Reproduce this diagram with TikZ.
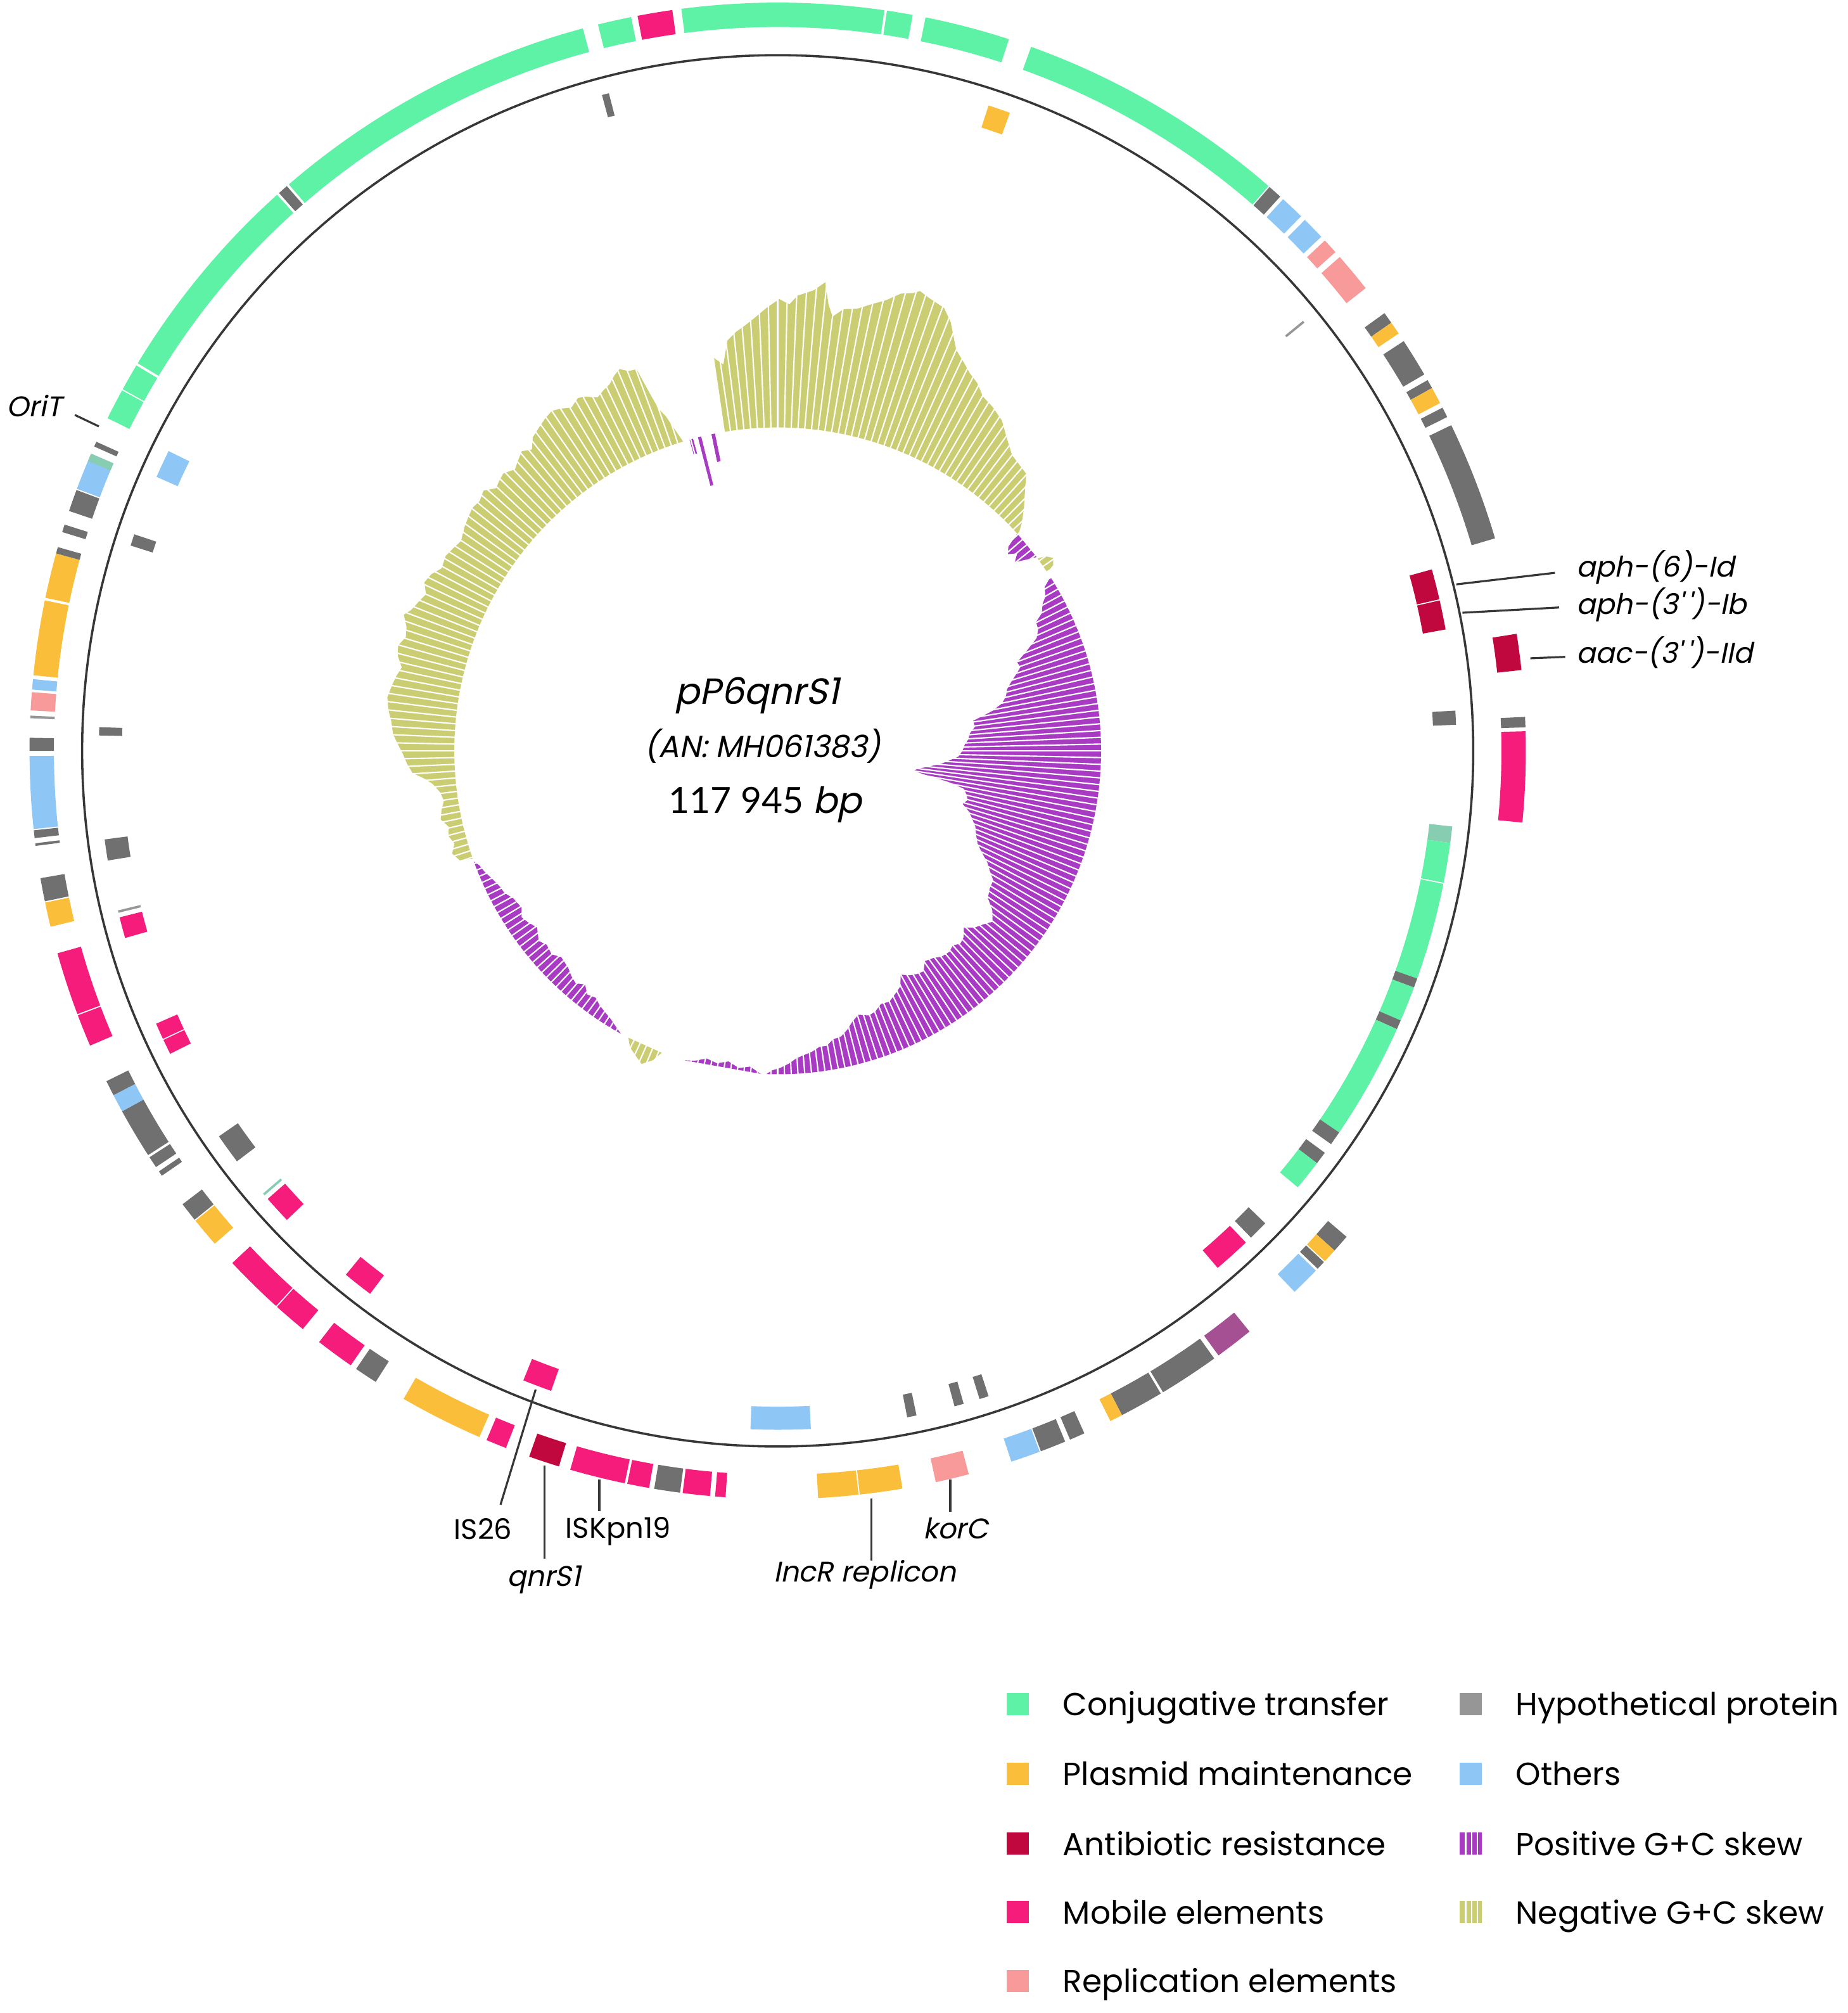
\documentclass[tikz,border=0pt]{standalone}
\usepackage{fontspec}
\setmainfont{Poppins}
\newfontfamily\gifont{Poppins}[FakeSlant=0.2]
\newfontfamily\numfont{Lato}
\definecolor{cconj}{RGB}{94,242,166}
\definecolor{cmaint}{RGB}{250,190,58}
\definecolor{cabr}{RGB}{192,8,62}
\definecolor{cmob}{RGB}{245,28,124}
\definecolor{crep}{RGB}{249,154,154}
\definecolor{chyp}{RGB}{112,112,112}
\definecolor{chypl}{RGB}{150,150,150}
\definecolor{coth}{RGB}{142,198,245}
\definecolor{cposskew}{RGB}{168,58,196}
\definecolor{cnegskew}{RGB}{203,205,115}
\definecolor{ctealx}{RGB}{135,205,178}
\definecolor{cmauve}{RGB}{166,80,148}
\definecolor{clinec}{RGB}{55,55,55}
\newcommand\featband[5]{\fill[#5] ({90-(#1)}:#3) -- ({90-(#1)}:#4) arc[start angle={90-(#1)}, end angle={90-(#2)}, radius=#4] -- ({90-(#2)}:#3) arc[start angle={90-(#2)}, end angle={90-(#1)}, radius=#3] -- cycle;}
\newcommand\ringO[3]{\featband{#1}{#2}{564}{583}{#3}}
\newcommand\ringI[3]{\featband{#1}{#2}{511}{529}{#3}}
\tikzset{
  lbl/.style={inner sep=0pt, font=\fontsize{6.3}{7}\selectfont},
  lbli/.style={inner sep=0pt, font=\gifont\fontsize{6.3}{7}\selectfont},
  lead/.style={draw=clinec, line width=0.45pt},
  lsq/.style={minimum size=1.73mm, inner sep=0pt},
  legtxt/.style={inner sep=0pt, anchor=base west, font=\fontsize{7.05}{9}\selectfont},
  stripe/.style={white, line width=0.3pt},
}
\begin{document}
\begin{tikzpicture}[x=0.1mm, y=0.1mm]
\path[use as bounding box] (0,0) rectangle (1440,-1568.4);
\begin{scope}[shift={(606,-585)}]
% ---- GC skew ----
\fill[cnegskew] ({90-350.6}:252) \foreach \p/\r in {350.8/310, 352/304, 353/322, 354.3/328, 355.5/332, 357/338, 358.5/345, 360.2/352, 361.5/348, 362.5/355, 364.5/360, 365.8/367, 366.5/350, 367.2/341, 368.5/348, 370.2/350, 372/356, 373.5/361, 375.1/369, 376.5/372, 377.2/375, 378.5/372, 380.6/368.6, 382/360, 384/342, 385.5/336, 387/330, 388.5/326, 390.1/319, 392/316, 394.2/311, 396/303, 398.4/294, 400/292, 401.9/290, 403.5/280, 405.5/269, 407/260, 407.8/254} {-- ({90-\p}:\r)} -- ({90-407.8}:252) arc[start angle={90-407.8}, end angle={90-350.6}, radius=252] -- cycle;
\fill[cnegskew] ({90-250.5}:252) \foreach \p/\r in {251/262, 252.5/266, 254/262, 255.5/265, 257/263, 258.5/268, 260/266, 261.5/263, 263/265, 264.5/270, 265.5/276, 266.5/285, 268/289, 269.5/292, 271/296, 272.5/300, 274.4/302, 276/305, 277.8/307, 279.5/305, 281/303, 282.5/300, 284/305, 285.5/307, 287/303, 288.5/305, 290/310, 291/306, 292.5/303, 294/300, 295.5/305, 297/303, 298.5/298, 300.4/300, 302/298, 303.5/296, 305.6/300, 307/302, 308.5/304, 310/303, 311.5/306, 313/300, 314/302, 315.3/304, 317/300, 318/303, 319.5/307, 320.8/303, 322/310, 323.5/313, 325/316, 326.4/318, 327.5/316, 329/312, 330.5/316, 331.5/314, 333/309, 334.2/312, 335.3/314, 336.5/319, 337.5/322, 338.5/318, 339.7/317, 340.3/296, 340.8/282, 341.5/275, 342.3/262} {-- ({90-\p}:\r)} -- ({90-343}:252) arc[start angle={90-343}, end angle={90-250.5}, radius=252] -- cycle;
\fill[cnegskew] ({90-53.5}:252) -- ({90-54}:258) -- ({90-55}:262) -- ({90-56}:259) -- ({90-56.5}:252) -- cycle;
\fill[cnegskew] ({90-201}:252) -- ({90-202}:260) -- ({90-203.5}:266) -- ({90-205}:262) -- ({90-206.5}:258) -- ({90-207.5}:252) -- cycle;
\fill[cposskew] ({90-57.5}:252) \foreach \p/\r in {58.5/244, 60/241, 61/236, 62.5/232, 63.5/225, 65/224, 66.5/220, 68/210, 69.7/199, 71/200, 72/196, 73.5/190, 75/185, 76.5/183, 78/179, 79.5/170, 81.3/154, 83/155, 85/150, 86.5/149, 88/146, 90/144, 91.8/141, 93/135, 94.5/128, 96/118, 97.3/110, 98.4/107, 99.3/118, 100.3/135, 101.5/148, 103/151, 104.5/153, 106/150, 107.5/156, 109/160, 111/165, 113/168, 115/172, 116.5/178, 118/185, 119.5/190, 121/196, 123/197, 125/200, 126.5/208, 128.5/214, 130/210, 132/206, 133.5/200, 135/205, 136.5/207, 138/204, 139.5/206, 141.5/205, 143/202, 145/200, 146.5/206, 148/205, 149.5/203, 151.2/199, 152.5/207, 154/210, 156/214, 157.8/213, 159.5/217, 161/218, 163/215, 164.6/219, 166/224, 167.5/228, 169.2/229, 170.5/233, 172/233, 173.5/236, 175.1/238, 176.5/240, 178/244, 179.5/247, 181/249} {-- ({90-\p}:\r)} -- ({90-182}:252) arc[start angle={90-182}, end angle={90-57.5}, radius=252] -- cycle;
\fill[cposskew] ({90-209}:252) \foreach \p/\r in {210.5/249, 212/246, 213.5/244, 215/242, 216.4/239, 218/241, 219.5/236, 221/240, 222.5/238, 224/235, 226.4/233, 228/237, 230/235, 231.5/238, 233.7/232.6, 235.5/236, 237/238, 238.5/234, 240.9/236, 242.5/240, 244/241, 246/244, 247.5/247, 249/249} {-- ({90-\p}:\r)} -- ({90-250}:252) arc[start angle={90-250}, end angle={90-209}, radius=252] -- cycle;
\fill[cposskew] ({90-47.8}:252) -- ({90-48.5}:240) -- ({90-49.5}:236) -- ({90-50.5}:242) -- ({90-51.5}:236) -- ({90-52.5}:245) -- ({90-53.2}:252) -- cycle;
\fill[cposskew] ({90-183}:252) -- ({90-185}:247) -- ({90-187}:249) -- ({90-189}:245) -- ({90-191}:248) -- ({90-193}:246) -- ({90-195}:250) -- ({90-197}:252) -- cycle;
\draw[cposskew, line width=0.8pt] ({90-344.5}:252) -- ({90-344.5}:240);
\draw[cposskew, line width=0.8pt] ({90-346}:252) -- ({90-346}:213);
\draw[cposskew, line width=0.8pt] ({90-348.5}:252) -- ({90-348.5}:230);
\foreach \a in {0,1.2,...,359} {\draw[stripe] ({90-\a}:100) -- ({90-\a}:445);}
% ---- backbone ----
\draw[draw=clinec, line width=0.5pt] (0,0) circle[radius=542];
% ---- outer ring ----
\ringO{296.4}{298.8}{cconj}
\ringO{298.9}{301.0}{cconj}
\ringO{301.2}{318.0}{cconj}
\ringO{318.2}{319.0}{chyp}
\ringO{319.2}{344.9}{cconj}
\ringO{346.1}{348.7}{cconj}
\ringO{349.2}{351.9}{cmob}
\ringO{352.6}{368.2}{cconj}
\ringO{368.4}{370.4}{cconj}
\ringO{371.4}{378.0}{cconj}
\ringO{379.8}{401.0}{cconj}
\ringO{41.1}{42.2}{chyp}
\ringO{42.5}{44.4}{coth}
\ringO{44.8}{46.6}{coth}
\ringO{47.0}{48.2}{crep}
\ringO{48.7}{51.8}{crep}
\ringO{54.2}{55.1}{chyp}
\ringO{55.1}{56.1}{cmaint}
\ringO{56.8}{59.8}{chyp}
\ringO{60.3}{61.0}{chyp}
\ringO{61.0}{62.3}{cmaint}
\ringO{62.7}{63.5}{chyp}
\ringO{64.2}{73.5}{chyp}
\ringO{81.0}{83.8}{cabr}
\ringO{87.4}{88.2}{chyp}
\ringO{88.5}{95.5}{cmob}
\ringO{130.5}{131.9}{chyp}
\ringO{131.9}{133.0}{cmaint}
\ringO{133.1}{133.8}{chyp}
\ringO{134.0}{136.3}{coth}
\ringO{140.9}{143.9}{cmauve}
\ringO{144.3}{149.0}{chyp}
\ringO{149.2}{152.6}{chyp}
\ringO{152.6}{153.6}{cmaint}
\ringO{155.8}{157.0}{chyp}
\ringO{157.4}{159.4}{chyp}
\ringO{159.5}{161.8}{coth}
\ringO{165.2}{167.8}{crep}
\ringO{170.4}{173.7}{cmaint}
\ringO{173.8}{176.9}{cmaint}
\ringO{184.0}{184.8}{cmob}
\ringO{185.2}{187.3}{cmob}
\ringO{187.5}{189.5}{chyp}
\ringO{189.9}{191.6}{cmob}
\ringO{191.8}{196.1}{cmob}
\ringO{197.0}{199.4}{cabr}
\ringO{201.3}{202.9}{cmob}
\ringO{203.5}{210.0}{cmaint}
\ringO{212.5}{214.3}{chyp}
\ringO{214.8}{217.8}{cmob}
\ringO{219.4}{222.0}{cmob}
\ringO{222.1}{226.8}{cmob}
\ringO{228.8}{231.1}{cmaint}
\ringO{231.2}{232.7}{chyp}
\ringO{235.4}{235.8}{chyp}
\ringO{236.2}{237.1}{chyp}
\ringO{237.3}{241.2}{chyp}
\ringO{241.2}{242.6}{coth}
\ringO{242.6}{243.8}{chyp}
\ringO{246.8}{249.3}{cmob}
\ringO{249.4}{254.3}{cmob}
\ringO{256.4}{258.3}{cmaint}
\ringO{258.4}{260.2}{chyp}
\ringO{262.7}{262.9}{chyp}
\ringO{263.3}{263.9}{chyp}
\ringO{264.0}{269.6}{coth}
\ringO{270.0}{271.0}{chyp}
\ringO{272.5}{272.7}{chypl}
\ringO{273.1}{274.5}{crep}
\ringO{274.7}{275.5}{coth}
\ringO{275.8}{281.6}{cmaint}
\ringO{281.8}{285.3}{cmaint}
\ringO{285.3}{285.8}{chyp}
\ringO{287.0}{287.6}{chyp}
\ringO{288.7}{290.4}{chyp}
\ringO{290.5}{293.4}{coth}
\ringO{292.8}{293.4}{ctealx}
\ringO{294.0}{294.4}{chyp}
% ---- inner ring ----
\ringI{18.1}{20.0}{cmaint}
\ringI{345.0}{345.6}{chyp}
\ringI{50.7}{50.9}{chypl}
\ringI{74.5}{77.1}{cabr}
\ringI{77.2}{79.7}{cabr}
\ringI{86.6}{87.8}{chyp}
\ringI{96.4}{97.8}{ctealx}
\ringI{97.8}{101.2}{cconj}
\ringI{101.3}{109.6}{cconj}
\ringI{109.6}{110.4}{chyp}
\ringI{110.4}{113.4}{cconj}
\ringI{113.4}{114.2}{chyp}
\ringI{114.2}{124.2}{cconj}
\ringI{124.2}{125.4}{chyp}
\ringI{126.3}{127.4}{chyp}
\ringI{127.4}{130.0}{cconj}
\ringI{134.1}{135.8}{chyp}
\ringI{136.4}{139.6}{cmob}
\ringI{161.9}{162.7}{chyp}
\ringI{164.1}{164.9}{chyp}
\ringI{168.2}{169.0}{chyp}
\ringI{177.2}{182.3}{coth}
\ringI{199.5}{202.0}{cmob}
\ringI{216.9}{219.5}{cmob}
\ringI{226.3}{228.7}{cmob}
\ringI{229.1}{229.3}{ctealx}
\ringI{232.8}{235.4}{chyp}
\ringI{243.5}{244.8}{cmob}
\ringI{244.9}{246.3}{cmob}
\ringI{254.0}{255.8}{cmob}
\ringI{256.2}{256.4}{chypl}
\ringI{260.7}{262.5}{chyp}
\ringI{271.3}{272.0}{chyp}
\ringI{287.6}{288.6}{chyp}
\ringI{293.8}{296.2}{coth}
\end{scope}
% ---- centre text ----
\node[inner sep=0pt, anchor=base, font=\gifont\fontsize{8.1}{9}\selectfont] (title) at (590,-548.8) {pP6qnrS1};
\node[inner sep=0pt, anchor=base, font=\gifont\fontsize{6.8}{7.5}\selectfont] (acc) at (594.4,-590) {(AN: MH061383)};
\node[inner sep=0pt, anchor=base, font=\fontsize{8}{9}\selectfont] (size) at (596.3,-633.5) {{\numfont 117 945} {\gifont bp}};
% ---- labels ----
\coordinate (oriTa) at (58.3,-323.3); \coordinate (oriTb) at (77,-332.2);
\node[lbli, anchor=base east] (oriT) at (49,-324.6) {OriT};
\draw[lead] (oriTa) -- (oriTb);
\coordinate (is26a) at (417.4,-1082.6); \coordinate (is26b) at (390,-1172.4);
\node[lbl, anchor=base] (is26) at (376.4,-1199.6) {IS26};
\draw[lead] (is26a) -- (is26b);
\coordinate (qnra) at (424.2,-1142); \coordinate (qnrb) at (424.2,-1214.4);
\node[lbli, anchor=base] (qnr) at (423.7,-1235.8) {qnrS1};
\draw[lead] (qnra) -- (qnrb);
\coordinate (iskpa) at (467,-1152.7); \coordinate (iskpb) at (467,-1177.4);
\node[lbl, anchor=base] (iskp) at (481.7,-1198.3) {ISKpn19};
\draw[lead] (iskpa) -- (iskpb);
\coordinate (incra) at (679,-1167.5); \coordinate (incrb) at (679,-1216);
\node[lbli, anchor=base] (incr) at (673.8,-1232.5) {IncR replicon};
\draw[lead] (incra) -- (incrb);
\coordinate (korca) at (740.5,-1152.7); \coordinate (korcb) at (740.5,-1178);
\node[lbli, anchor=base] (korc) at (744.8,-1198.8) {korC};
\draw[lead] (korca) -- (korcb);
\coordinate (apha) at (1134.8,-455.3); \coordinate (aphb) at (1211.7,-446.3);
\node[lbli, anchor=base west] (aph6) at (1227.7,-449.7) {aph-(6)-Id};
\draw[lead] (apha) -- (aphb);
\coordinate (aphc) at (1139.6,-477.4); \coordinate (aphd) at (1214.9,-473.3);
\node[lbli, anchor=base west] (aph3) at (1227.7,-478.5) {aph-(3{'}\,{'})-Ib};
\draw[lead] (aphc) -- (aphd);
\coordinate (aaca) at (1192.5,-512.9); \coordinate (aacb) at (1219.7,-511.8);
\node[lbli, anchor=base west] (aac) at (1227.7,-516.6) {aac-(3{'}\,{'})-IId};
\draw[lead] (aaca) -- (aacb);
% ---- legend ----
\node[lsq, fill=cconj] (sq1) at (793.1,-1327.6) {};
\node[legtxt] (t1) at (827.6,-1336.8) {Conjugative transfer};
\node[lsq, fill=cmaint] (sq2) at (793.1,-1381.9) {};
\node[legtxt] (t2) at (827.6,-1391.1) {Plasmid maintenance};
\node[lsq, fill=cabr] (sq3) at (793.1,-1436.3) {};
\node[legtxt] (t3) at (827.6,-1445.5) {Antibiotic resistance};
\node[lsq, fill=cmob] (sq4) at (793.1,-1489.8) {};
\node[legtxt] (t4) at (827.6,-1499.0) {Mobile elements};
\node[lsq, fill=crep] (sq5) at (793.1,-1543.3) {};
\node[legtxt] (t5) at (827.6,-1552.5) {Replication elements};
\node[lsq, fill=chypl] (sq6) at (1146.1,-1327.6) {};
\node[legtxt] (t6) at (1180.5,-1336.8) {Hypothetical protein};
\node[lsq, fill=coth] (sq7) at (1146.1,-1381.9) {};
\node[legtxt] (t7) at (1180.5,-1391.1) {Others};
\node[lsq, fill=cposskew, path picture={\foreach \dx in {-0.4mm,0.05mm,0.5mm}{\draw[stripe] ([xshift=\dx]path picture bounding box.north) -- ([xshift=\dx]path picture bounding box.south);}}] (sq8) at (1146.1,-1436.3) {};
\node[legtxt] (t8) at (1180.5,-1445.5) {Positive G+C skew};
\node[lsq, fill=cnegskew, path picture={\foreach \dx in {-0.4mm,0.05mm,0.5mm}{\draw[stripe] ([xshift=\dx]path picture bounding box.north) -- ([xshift=\dx]path picture bounding box.south);}}] (sq9) at (1146.1,-1489.8) {};
\node[legtxt] (t9) at (1180.5,-1499.0) {Negative G+C skew};
\end{tikzpicture}
\end{document}
